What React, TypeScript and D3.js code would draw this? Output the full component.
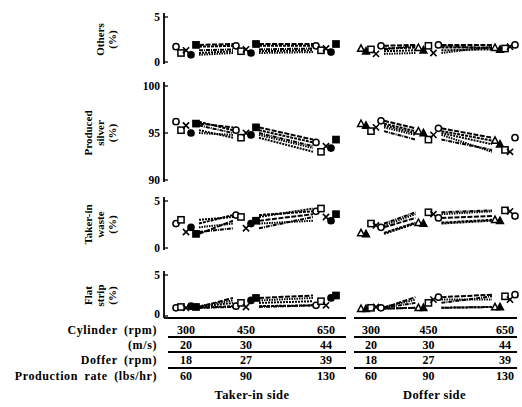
import * as d3 from "d3";

// cylinder settings shared by both sides
const speeds = [300, 450, 650];
const surfaceSpeeds = [20, 30, 44];
const dofferSpeeds = [18, 27, 39];
const productionRates = [60, 90, 130];
const sides = ["Taker-in side", "Doffer side"];
const rowLabels = ["Cylinder (rpm)", "(m/s)", "Doffer (rpm)", "Production rate (lbs/hr)"];

const panelTitles = [["Others", "(%)"], ["Produced", "silver", "(%)"], ["Taker-in", "waste", "(%)"], ["Flat", "strip", "(%)"]];
const panelDomains = [[0, 5], [90, 100], [0, 5], [0, 5]];
const panelTicks = [[0, 5], [90, 95, 100], [0, 5], [0, 5]];

const takerInMarkers = ["circle", "square", "cross", "dot", "box"];
const dofferMarkers = ["triangle", "solidTriangle", "square", "cross", "circle"];

// each row = one series, values at 300 / 450 / 650 rpm
const takerInOthers = [[1.7, 1.8, 1.8], [1.0, 1.2, 1.3], [1.3, 1.4, 1.5], [0.8, 1.0, 1.1], [1.9, 2.0, 2.0]];
const takerInSilver = [[96.2, 95.3, 94.0], [95.3, 94.5, 93.0], [95.8, 95.0, 93.6], [95.0, 94.8, 93.4], [96.0, 95.6, 94.3]];
const takerInWaste = [[2.6, 3.5, 3.9], [3.0, 3.3, 4.2], [1.7, 2.1, 3.3], [2.2, 2.6, 2.9], [1.5, 2.9, 3.6]];
const takerInFlat = [[1.0, 1.2, 1.3], [1.1, 1.6, 1.8], [1.0, 1.1, 1.3], [1.2, 1.9, 2.2], [1.1, 2.2, 2.5]];

const dofferOthers = [[1.5, 1.6, 1.6], [1.2, 1.3, 1.4], [1.4, 1.8, 1.5], [0.9, 1.0, 1.7], [1.8, 1.9, 1.9]];
const dofferSilver = [[96.0, 95.2, 94.2], [95.8, 95.0, 93.8], [95.2, 94.3, 93.2], [95.6, 94.8, 93.0], [96.3, 95.5, 94.5]];
const dofferWaste = [[1.6, 2.7, 3.0], [1.5, 2.6, 2.9], [2.6, 3.8, 4.0], [2.4, 3.6, 3.9], [2.2, 3.2, 3.4]];
const dofferFlat = [[0.9, 1.0, 1.1], [0.9, 1.0, 1.1], [1.0, 1.6, 2.4], [1.1, 2.0, 2.0], [1.0, 2.3, 2.6]];

const takerInData = [takerInOthers, takerInSilver, takerInWaste, takerInFlat];
const dofferData = [dofferOthers, dofferSilver, dofferWaste, dofferFlat];

const dashes = ["3,1", "2,1", "4,1,1,1", "1.5,1", "5,1.5"];
const FONT = "'Liberation Serif', 'DejaVu Serif', serif";

function Marker({ type, x, y }: { type: string; x: number; y: number }) {
  const s = 3.1;
  if (type === "circle" || type === "dot")
    return <circle cx={x} cy={y} r={s} fill={type === "dot" ? "black" : "white"} stroke="black" strokeWidth={1.5} />;
  if (type === "square" || type === "box")
    return <rect x={x - s} y={y - s} width={s * 2} height={s * 2} fill={type === "box" ? "black" : "white"} stroke="black" strokeWidth={1.5} />;
  if (type === "cross")
    return (
      <path d={`M${x - s},${y - s}L${x + s},${y + s}M${x - s},${y + s}L${x + s},${y - s}`} stroke="black" strokeWidth={1.6} />
    );
  return (
    <path
      d={`M${x},${y - s - 0.5}L${x + s + 0.3},${y + s - 0.3}L${x - s - 0.3},${y + s - 0.3}Z`}
      fill={type === "solidTriangle" ? "black" : "white"}
      stroke="black"
      strokeWidth={1.5}
    />
  );
}

export default function App() {
  const width = 522;
  const height = 407;
  const axisX = 164;
  const panelRanges = [[62, 17], [180, 86], [248, 201], [316, 275]];
  const groupX = [
    d3.scaleLinear().domain([300, 650]).range([186, 326]),
    d3.scaleLinear().domain([300, 650]).range([371, 505]),
  ];
  const groupSpan = [[168, 346], [354, 517]];
  const groupData = [takerInData, dofferData];
  const groupMarkers = [takerInMarkers, dofferMarkers];
  const offsets = [-10, -5, 0, 5, 10];
  const gap = 13;
  const rowY = [330, 345, 360, 376];
  const sepY = [318, 337, 352, 368];
  const rowValues = [speeds, surfaceSpeeds, dofferSpeeds, productionRates];
  const line = d3.line<[number, number]>();

  return (
    <svg width={width} height={height} style={{ position: "absolute", left: 0, top: 0, background: "white" }} fontFamily={FONT}>
      {panelDomains.map((dom, p) => {
        const y = d3.scaleLinear().domain(dom).range(panelRanges[p]);
        const [y0, y1] = panelRanges[p];
        const titles = panelTitles[p];
        const cy = (y0 + y1) / 2;
        return (
          <g key={p}>
            <line x1={axisX} x2={axisX} y1={y1 - 4} y2={y0 + 2} stroke="black" strokeWidth={1.8} />
            {panelTicks[p].map((t) => (
              <g key={t}>
                <line x1={axisX} x2={axisX + 4} y1={y(t)} y2={y(t)} stroke="black" strokeWidth={1.3} />
                <text x={axisX - 4} y={y(t) - (p === 3 && t === 0 ? 2 : 0)} dy="0.35em" textAnchor="end" fontSize={11.5} fontWeight="bold">
                  {t}
                </text>
              </g>
            ))}
            {titles.map((t, i) => (
              <text
                key={t}
                transform={`translate(${116 - (titles.length - 1 - i) * 12},${cy}) rotate(-90)`}
                textAnchor="middle"
                fontSize={11}
                fontWeight="bold"
              >
                {t}
              </text>
            ))}
            {groupData.map((gd, g) => {
              const x = groupX[g];
              return (
                <g key={g}>
                  {gd[p].map((vals, s) => (
                    <g key={s}>
                      {[0, 1].map((i) => (
                        <path
                          key={i}
                          d={line([
                            [x(speeds[i]) + gap, y(vals[i])],
                            [x(speeds[i + 1]) - gap, y(vals[i + 1])],
                          ]) as string}
                          fill="none"
                          stroke="black"
                          strokeWidth={2}
                          strokeDasharray={dashes[s]}
                        />
                      ))}
                      {vals.map((v, i) => (
                        <Marker key={i} type={groupMarkers[g][s]} x={x(speeds[i]) + offsets[s]} y={y(v)} />
                      ))}
                    </g>
                  ))}
                </g>
              );
            })}
          </g>
        );
      })}
      <line x1={axisX} x2={groupSpan[0][0]} y1={sepY[0]} y2={sepY[0]} stroke="black" strokeWidth={1.8} />
      {groupSpan.map((sp, g) => (
        <g key={g}>
          {sepY.map((sy) => (
            <line key={sy} x1={sp[0]} x2={sp[1]} y1={sy} y2={sy} stroke="black" strokeWidth={1.8} />
          ))}
          {rowValues.map((vals, r) =>
            vals.map((v, i) => (
              <text key={`${r}-${i}`} x={groupX[g](speeds[i])} y={rowY[r]} dy="0.35em" textAnchor="middle" fontSize={12} fontWeight="bold">
                {v}
              </text>
            ))
          )}
          <text x={groupX[g](450) + 6} y={395} dy="0.35em" textAnchor="middle" fontSize={12.5} fontWeight="bold" letterSpacing={0.4}>
            {sides[g]}
          </text>
        </g>
      ))}
      {rowLabels.map((l, r) => (
        <text key={l} x={157} y={rowY[r]} dy="0.35em" textAnchor="end" fontSize={12} fontWeight="bold" letterSpacing={0.6} wordSpacing={3}>
          {l}
        </text>
      ))}
    </svg>
  );
}
